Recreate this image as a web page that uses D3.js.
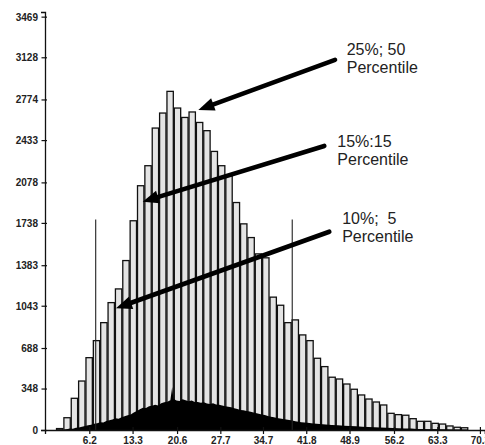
<!DOCTYPE html>
<html>
<head>
<meta charset="utf-8">
<script src="https://cdn.jsdelivr.net/npm/d3@7"></script>
<style>
  html, body { margin: 0; padding: 0; background: #fff; }
  svg { display: block; }
  text { font-family: "Liberation Sans", Arial, sans-serif; }
</style>
</head>
<body>
<svg id="chart" width="485" height="445"></svg>
<script>
// Histogram: first bin edge, bin width and the count in each bin
const binStart = 0.74;
const binWidth = 1.208;
const binCounts = [12, 103, 266, 411, 607, 750, 901, 1069, 1184, 1422,
  1756, 2050, 2218, 2534, 2660, 2842, 2702, 2623, 2669, 2581,
  2512, 2338, 2218, 2131, 1909, 1730, 1615, 1478, 1445, 1115,
  1047, 901, 924, 798, 750, 602, 532, 443, 428, 386,
  342, 294, 260, 235, 210, 140, 129, 124, 95, 73,
  73, 56, 50, 34, 23, 19];

// Fine-grained subgroup distribution drawn as a filled black profile
const subX = [2.0, 2.5, 3.0, 3.5, 4.0, 4.5, 5.0, 5.5, 6.0, 6.5, 7.0, 7.5, 8.0, 8.5, 9.0, 9.5,
  10.0, 10.5, 11.0, 11.5, 12.0, 12.5, 13.0, 13.5, 14.0, 14.5, 15.0, 15.5, 16.0, 16.5, 17.0, 17.5,
  18.0, 18.5, 19.0, 19.5, 19.8, 20.0, 20.5, 21.0, 21.5, 22.0, 22.5, 23.0, 23.5, 24.0, 24.5, 25.0,
  25.5, 26.0, 26.5, 27.0, 27.5, 28.0, 28.5, 29.0, 29.5, 30.0, 30.5, 31.0, 31.5, 32.0, 32.5, 33.0,
  33.5, 34.0, 34.5, 35.0, 35.5, 36.0, 36.5, 37.0, 37.5, 38.0, 38.5, 39.0, 39.5, 40.0, 40.5, 41.0,
  41.5, 42.0, 43.0, 44.0, 45.0, 46.0, 47.0, 48.0, 49.0, 50.0, 51.0, 52.0, 53.0, 54.0, 55.0, 56.0,
  57.0, 58.0, 59.0, 60.0, 61.0, 62.0, 63.0, 64.0, 65.0, 66.0];
const subCount = [0, 6, 12, 10, 18, 22, 27, 33, 40, 44, 52, 57, 66, 62, 76, 82,
  88, 98, 94, 108, 116, 124, 131, 146, 160, 175, 186, 184, 199, 204, 212, 206,
  224, 232, 238, 250, 360, 262, 248, 244, 258, 250, 241, 247, 234, 236, 228, 232,
  222, 219, 224, 214, 211, 205, 200, 196, 190, 182, 176, 168, 166, 160, 156, 148,
  142, 137, 130, 126, 118, 111, 106, 101, 96, 92, 88, 84, 80, 74, 69, 66,
  63, 60, 55, 50, 47, 43, 39, 36, 34, 31, 28, 26, 23, 21, 18, 16,
  14, 13, 12, 9, 8, 7, 6, 4, 3, 0];

// Axis tick labels
const xTicks = [6.2, 13.3, 20.6, 27.7, 34.7, 41.8, 48.9, 56.2, 63.3, 70.3];
const yTicks = [0, 348, 688, 1043, 1383, 1738, 2078, 2433, 2774, 3128, 3469];

// Percentile marker lines (position, height)
const markerX = [7.25, 39.5];
const markerTop = [1766, 1766];

// Callouts: label lines, arrow tip, arrow tail and label anchor in data units
const callouts = [
  { lines: ["25%; 50", "Percentile"], tip: [24.09, 2686], tail: [46.52, 3106], at: [48.44, 3148] },
  { lines: ["15%:15", "Percentile"], tip: [14.96, 1916], tail: [44.76, 2384], at: [46.9, 2378] },
  { lines: ["10%;  5", "Percentile"], tip: [10.58, 1022], tail: [45.58, 1664], at: [47.7, 1729] }
];

const svg = d3.select("#chart");

const x = d3.scaleLinear().domain([-1.07, 71.1]).range([45, 484.8]);
const y = d3.scaleLinear().domain([0, 3508]).range([430, 12]);

// Bars
const bw = x(binStart + binWidth) - x(binStart);
svg.append("g")
  .selectAll("rect")
  .data(binCounts)
  .join("rect")
  .attr("x", (d, i) => x(binStart + i * binWidth) + 0.5)
  .attr("y", d => y(d))
  .attr("width", bw - 1)
  .attr("height", d => y(0) - y(d))
  .attr("fill", "#e4e4e4")
  .attr("stroke", "#111")
  .attr("stroke-width", 1.3);

// Black subgroup profile
const area = d3.area()
  .x((d, i) => x(subX[i]))
  .y0(y(0))
  .y1(d => y(d));
svg.append("path")
  .datum(subCount)
  .attr("d", area)
  .attr("fill", "#000");

// Percentile marker lines
svg.append("g")
  .selectAll("line")
  .data(markerX)
  .join("line")
  .attr("x1", d => x(d)).attr("x2", d => x(d))
  .attr("y1", y(0))
  .attr("y2", (d, i) => y(markerTop[i]))
  .attr("stroke", "#222")
  .attr("stroke-width", 1.1);

// Axes
const xAxis = svg.append("g")
  .attr("transform", `translate(0,${y(0)})`)
  .call(d3.axisBottom(x).tickValues(xTicks).tickFormat(d3.format(".1f")).tickSizeOuter(0).tickSize(4));
xAxis.select(".domain").attr("stroke", "#111").attr("stroke-width", 1.3);
xAxis.selectAll(".tick line").attr("y1", -3).attr("y2", 4).attr("stroke", "#111").attr("stroke-width", 1.2);
xAxis.selectAll(".tick text")
  .attr("y", 14).attr("dy", 0)
  .attr("font-size", 10).attr("font-weight", "bold")
  .attr("font-family", "Liberation Sans, Arial, sans-serif")
  .attr("fill", "#222");

const yAxis = svg.append("g")
  .attr("transform", `translate(${x.range()[0]},0)`)
  .call(d3.axisLeft(y).tickValues(yTicks).tickFormat(d3.format("d")).tickSizeOuter(0).tickSize(4));
yAxis.select(".domain").attr("stroke", "#111").attr("stroke-width", 1.3);
yAxis.selectAll(".tick line").attr("x1", 2).attr("x2", -3.5).attr("stroke", "#111").attr("stroke-width", 1.2);
yAxis.selectAll(".tick text")
  .attr("x", -7).attr("dy", "0.34em")
  .attr("font-size", 10).attr("font-weight", "bold")
  .attr("font-family", "Liberation Sans, Arial, sans-serif")
  .attr("fill", "#222");

// Callout arrows and labels
const headLen = 16, headHalf = 6.5;
callouts.forEach(c => {
  const tx = x(c.tip[0]), ty = y(c.tip[1]);
  const sx = x(c.tail[0]), sy = y(c.tail[1]);
  const len = Math.hypot(tx - sx, ty - sy);
  const ux = (tx - sx) / len, uy = (ty - sy) / len;
  const bx = tx - ux * headLen, by = ty - uy * headLen;
  svg.append("line")
    .attr("x1", sx).attr("y1", sy)
    .attr("x2", bx + ux * 2).attr("y2", by + uy * 2)
    .attr("stroke", "#000").attr("stroke-width", 4.6)
    .attr("stroke-linecap", "round");
  svg.append("path")
    .attr("d", `M${tx},${ty}L${bx - uy * headHalf},${by + ux * headHalf}L${bx + uy * headHalf},${by - ux * headHalf}Z`)
    .attr("fill", "#000");
  const t = svg.append("text")
    .attr("x", x(c.at[0])).attr("y", y(c.at[1]))
    .attr("font-size", 16).attr("fill", "#222")
    .attr("xml:space", "preserve")
    .style("white-space", "pre");
  c.lines.forEach((ln, i) => {
    t.append("tspan").attr("x", x(c.at[0])).attr("dy", i === 0 ? 0 : 18.5).text(ln);
  });
});
</script>
</body>
</html>
